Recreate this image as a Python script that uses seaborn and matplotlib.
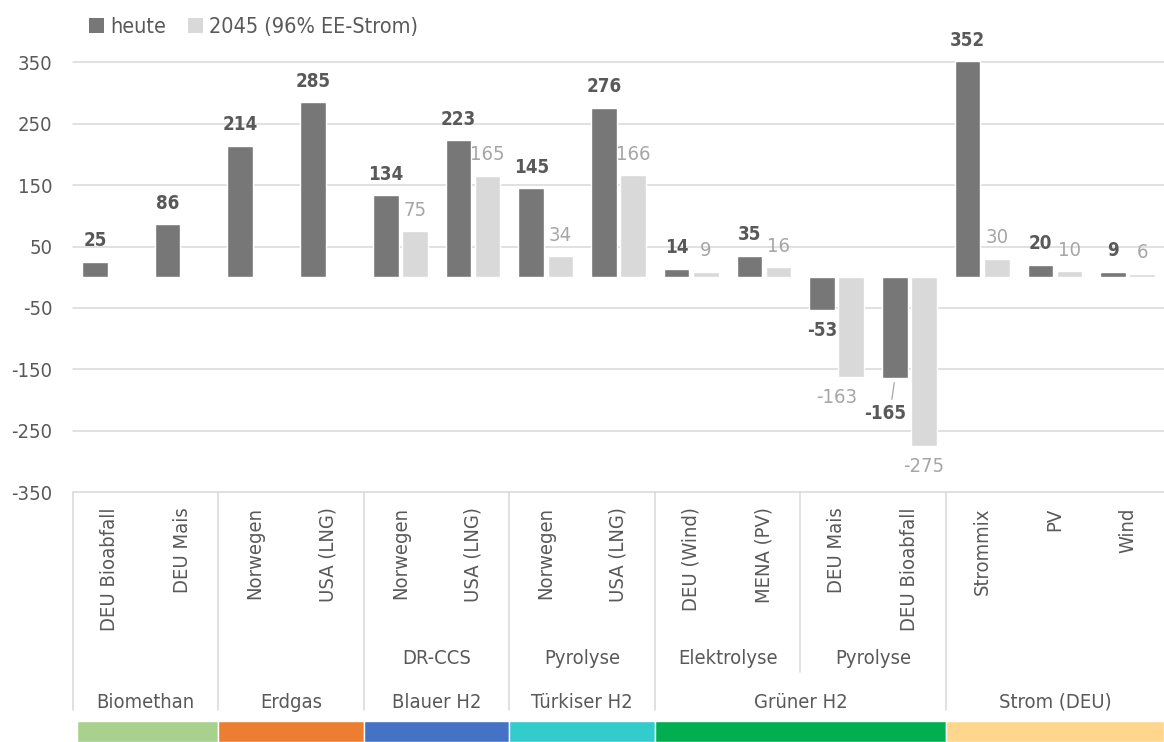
import numpy as np
import pandas as pd
import matplotlib
matplotlib.use("Agg")
import matplotlib.pyplot as plt
from matplotlib.patches import Patch, Rectangle
import seaborn as sns

# ---- data -------------------------------------------------------------
groups = ["Biomethan", "Biomethan", "Erdgas", "Erdgas",
          "Blauer H2", "Blauer H2", "Türkiser H2", "Türkiser H2",
          "Grüner H2", "Grüner H2", "Grüner H2", "Grüner H2",
          "Strom (DEU)", "Strom (DEU)", "Strom (DEU)"]
processes = ["", "", "", "", "DR-CCS", "DR-CCS", "Pyrolyse", "Pyrolyse",
             "Elektrolyse", "Elektrolyse", "Pyrolyse", "Pyrolyse", "", "", ""]
sub_labels = ["DEU Bioabfall", "DEU Mais", "Norwegen", "USA (LNG)",
              "Norwegen", "USA (LNG)", "Norwegen", "USA (LNG)",
              "DEU (Wind)", "MENA (PV)", "DEU Mais", "DEU Bioabfall",
              "Strommix", "PV", "Wind"]
heute = [25, 86, 214, 285, 134, 223, 145, 276, 14, 35, -53, -165, 352, 20, 9]
jahr_2045 = [np.nan, np.nan, np.nan, np.nan, 75, 165, 34, 166, 9, 16,
             -163, -275, 30, 10, 6]
series_names = ["heute", "2045 (96% EE-Strom)"]
y_ticks = [-350, -250, -150, -50, 50, 150, 250, 350]
group_colors = {"Biomethan": "#A9D18E", "Erdgas": "#ED7D31",
                "Blauer H2": "#4472C4", "Türkiser H2": "#33CCCC",
                "Grüner H2": "#00B050", "Strom (DEU)": "#FFD78C"}

# ---- style ------------------------------------------------------------
DARK, LIGHT = "#777777", "#D9D9D9"
TXT_DARK, TXT_LIGHT = "#595959", "#A6A6A6"
GRID = "#D9D9D9"

sns.set_theme(style="white")
plt.rcParams["font.family"] = ["DejaVu Sans"]
plt.rcParams["font.stretch"] = "condensed"

keys = [f"c{i:02d}" for i in range(len(sub_labels))]
rows = []
for k, a, b in zip(keys, heute, jahr_2045):
    rows.append((k, series_names[0], a))
    rows.append((k, series_names[1], b))
df = pd.DataFrame(rows, columns=["key", "series", "value"]).dropna()

fig = plt.figure(figsize=(11.64, 7.42), dpi=100)
ax = fig.add_axes([73 / 1164, 250 / 742, 1091 / 1164, 460.2 / 742])

sns.barplot(data=df, x="key", y="value", hue="series", order=keys,
            hue_order=series_names, palette=[DARK, LIGHT], saturation=1,
            width=0.8, gap=0.12, errorbar=None, legend=False, ax=ax)

ax.set_xlim(-0.5, len(keys) - 0.5)
ax.set_ylim(-350, 400)
ax.set_yticks(y_ticks)
ax.set_yticklabels([str(t) for t in y_ticks], fontsize=14.5, color=TXT_DARK)
ax.tick_params(axis="y", length=0, pad=15)
for t in y_ticks:
    ax.axhline(t, color=GRID, lw=1.1, zorder=0, clip_on=False)
for s in ax.spines.values():
    s.set_visible(False)
ax.set_xlabel("")
ax.set_ylabel("")

# category labels (rotated, first level)
ax.set_xticks(range(len(keys)))
ax.set_xticklabels(sub_labels, rotation=90, fontsize=14.5, color=TXT_DARK)
ax.tick_params(axis="x", length=0, pad=11)

# ---- value labels -----------------------------------------------------
px = 0.72  # points per pixel at 100 dpi
nudges = {(1, 10): (-15, -20), (0, 11): (-10, -35)}
for si, cont in enumerate(ax.containers):
    for bar in cont:
        h = bar.get_height()
        if np.isnan(h):
            continue
        xc = bar.get_x() + bar.get_width() / 2
        cat = int(round(xc))
        dx, dy = nudges.get((si, cat), (0, 21 if h >= 0 else -21))
        style = dict(fontsize=13.5, fontweight="bold", color=TXT_DARK) if si == 0 \
            else dict(fontsize=14.5, color=TXT_LIGHT)
        arrow = None
        if (si, cat) == (0, 11):
            arrow = dict(arrowstyle="-", color=TXT_LIGHT, lw=0.9,
                         shrinkA=1, shrinkB=3, relpos=(0.65, 1.0))
        ax.annotate(f"{h:.0f}", xy=(xc, h), xytext=(dx * px, dy * px),
                    textcoords="offset points", ha="center", va="center",
                    arrowprops=arrow, annotation_clip=False, **style)

# ---- hierarchical axis below the plot ---------------------------------
trans = ax.get_xaxis_transform()
H = 460.2


def fy(p):
    """Convert a pixel row below the axes bottom to axes fraction."""
    return -(p - 492) / H


# group spans derived from the group list
spans = []
for i, g in enumerate(groups):
    if spans and spans[-1][0] == g:
        spans[-1][2] = i
    else:
        spans.append([g, i, i])

for g, a, b in spans:
    ax.plot([a - 0.5, a - 0.5], [0, fy(710)], transform=trans, color=GRID,
            lw=1.1, clip_on=False)
    ax.text((a + b) / 2, fy(702), g, transform=trans, ha="center",
            va="center", fontsize=14.5, color=TXT_DARK)
    left = a - 0.5 + (4 / 72.73 if a == 0 else 0)
    ax.add_patch(Rectangle((left, fy(742)), b + 0.5 - left, fy(721) - fy(742),
                           transform=trans, facecolor=group_colors[g],
                           edgecolor="white", lw=1, clip_on=False))

# process sub-groups
pspans = []
for i, p in enumerate(processes):
    if pspans and pspans[-1][0] == p and pspans[-1][2] == i - 1:
        pspans[-1][2] = i
    else:
        pspans.append([p, i, i])
for p, a, b in pspans:
    if not p:
        continue
    ax.text((a + b) / 2, fy(658), p, transform=trans, ha="center",
            va="center", fontsize=14.5, color=TXT_DARK)
    if a > 0 and groups[a] == groups[a - 1]:
        ax.plot([a - 0.5, a - 0.5], [0, fy(672)], transform=trans,
                color=GRID, lw=1.1, clip_on=False)

# ---- legend -----------------------------------------------------------
handles = [Patch(facecolor=DARK, edgecolor="none"),
           Patch(facecolor=LIGHT, edgecolor="none")]
fig.legend(handles, series_names, loc="center left",
           bbox_to_anchor=(89 / 1164, 1 - 27 / 742), ncol=2, frameon=False,
           fontsize=15.5, handlelength=0.7, handleheight=0.7, handletextpad=0.3,
           columnspacing=1.0, borderpad=0, borderaxespad=0, labelcolor=TXT_DARK)

fig.savefig("out.png", dpi=100)
